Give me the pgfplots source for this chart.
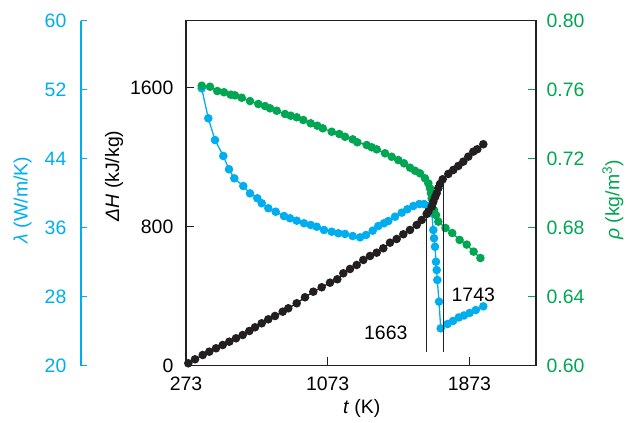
\documentclass[border=0pt]{standalone}
\usepackage{pgfplots}
\pgfplotsset{compat=1.18}
\usepackage{fontspec}
\setmainfont{Liberation Sans}
\definecolor{lblue}{RGB}{0,174,239}
\definecolor{dgreen}{RGB}{0,166,81}
\definecolor{dblack}{RGB}{35,31,32}

\pgfplotstableread{
x y
286 12.7
323.8 35.7
367.3 60.4
404.5 79.4
442.4 99
480.2 118
517.5 137
555.3 156.5
593.1 175.5
630.4 198.5
662.6 219.8
700.4 242.9
737.6 265.9
775.5 284.9
818.9 309.6
850.6 329.2
898 358
944.8 392.5
991.7 424.7
1039.1 450
1086 476.5
1127.2 496.1
1161.1 530.6
1198.9 555.4
1236.7 578.4
1274 607.2
1311.8 630.2
1349.6 649.2
1386.9 674.5
1424.7 706.7
1462.5 728
1499.8 755
1537.6 779.8
1575.5 808.6
1603.7 837.4
1631.9 871.9
1641 885.1
1660.2 913.9
1669.2 942.7
1678.8 968
1688.4 991
1697.4 1019.8
1707 1044.5
1722.3 1071.6
1753.9 1102.1
1782.1 1125.1
1810.4 1148.1
1838.6 1172.9
1866.8 1201.6
1895.1 1230.4
1917.6 1244.2
1951.5 1273
}\enthalpy

\pgfplotstableread{
x y
361.6 52.14
398.9 48.66
436.7 46.14
483.6 44.29
515.8 42.75
545.7 41.70
596.5 40.81
634.3 39.96
675.5 39.39
700.4 38.81
737.6 38.23
779.4 37.83
826.3 37.33
860.2 37.07
898 36.79
939.2 36.49
977 36.29
1010.9 36.09
1052.1 35.71
1095.6 35.51
1132.8 35.33
1170.7 35.25
1214.1 35.01
1255.4 34.86
1289.2 35.13
1327 35.63
1358.7 36.17
1390.8 36.49
1415.1 36.75
1453 37.25
1490.8 37.72
1522.4 38.11
1556.3 38.49
1590.1 38.72
1616.7 38.72
1641 38.49
1660.2 37.68
1669.2 35.71
1673.2 34.75
1678.8 33.77
1684.4 32.03
1688.4 31.07
1691.8 29.91
1701.4 27.40
1711 24.31
1749.4 24.81
1780.4 25.16
1813.2 25.57
1842.5 25.80
1874.1 26.09
1909.1 26.43
1951.5 26.86
}\conductivity

\pgfplotstableread{
x y
361.6 0.7622
408.5 0.7616
449.7 0.7591
487.5 0.7584
525.4 0.7570
549.6 0.7566
587.5 0.7552
634.3 0.7533
681.2 0.7516
719 0.7504
747.2 0.7491
785.1 0.7477
831.9 0.7458
864.1 0.7448
898 0.7439
935.2 0.7423
977 0.7404
1014.3 0.7390
1044.8 0.7375
1095.6 0.7355
1138.5 0.7342
1170.7 0.7326
1214.1 0.7311
1240.1 0.7294
1293.2 0.7278
1321.4 0.7265
1349.6 0.7253
1396.5 0.7230
1434.3 0.7210
1471.6 0.7191
1503.8 0.7172
1537.6 0.7147
1565.9 0.7129
1594.1 0.7114
1622.3 0.7085
1641 0.7056
1650.6 0.7027
1656.2 0.6998
1660.2 0.6969
1665.8 0.6940
1673.2 0.6901
1684.4 0.6872
1697.4 0.6834
1738.1 0.6797
1775.9 0.6768
1817.7 0.6728
1857.8 0.6701
1896.7 0.6660
1935.1 0.6623
}\density

\begin{document}
\fontsize{19.5}{22}\selectfont
\begin{tikzpicture}
\useasboundingbox (0bp,0bp) rectangle (631bp,423bp);
\pgfplotsset{
  every axis/.append style={
    scale only axis, width=350bp, height=345bp,
    xmin=273, xmax=2249,
    tick align=inside,
    major tick length=8bp,
    /pgf/number format/assume math mode=true,
    /pgf/number format/1000 sep={},
    scaled ticks=false,
    tick label style={font=\fontsize{19.5}{22}\selectfont},
  },
}

% lambda data
\begin{axis}[at={(186bp,57.5bp)}, anchor=south west,
  ymin=20, ymax=60, hide x axis, hide y axis]
\addplot[lblue, line width=1.3bp, mark=*, mark size=3.6bp] table {\conductivity};
\end{axis}

% lambda scale, offset to the left
\begin{axis}[at={(81bp,57.5bp)}, anchor=south west, width=1bp,
  xmin=0, xmax=1, ymin=20, ymax=60, hide x axis,
  axis y line*=left,
  y axis line style={lblue, line width=1.2bp},
  ytick={20,28,36,44,52,60},
  major tick length=6bp,
  ytick style={lblue, line width=1bp},
  yticklabel style={text=lblue, xshift=-8bp}]
\addplot[draw=none, forget plot] coordinates {(0,20)};
\end{axis}

% density
\begin{axis}[at={(186bp,57.5bp)}, anchor=south west,
  ymin=0.6, ymax=0.8, hide x axis,
  axis y line*=right,
  y axis line style={dblack, line width=1.2bp},
  ytick={0.6,0.64,0.68,0.72,0.76,0.8},
  ytick style={dgreen, line width=1bp},
  yticklabel style={text=dgreen, xshift=4bp,
    /pgf/number format/.cd, fixed, fixed zerofill, precision=2}]
\addplot[dgreen, line width=1.3bp, mark=*, mark size=3.6bp] table {\density};
\end{axis}

% enthalpy, main frame
\begin{axis}[at={(186bp,57.5bp)}, anchor=south west,
  ymin=0, ymax=1985,
  xtick={273,1073,1873}, ytick={0,800,1600},
  xtick pos=bottom, ytick pos=left,
  axis line style={dblack, line width=1.2bp},
  tick style={dblack, line width=1bp},
  xticklabel style={yshift=-5bp},
  yticklabel style={xshift=-6bp}]
\addplot[dblack, line width=1.3bp, mark=*, mark size=3.6bp] table {\enthalpy};
\addplot[dblack, line width=1bp, no marks] coordinates {(1630,77) (1630,877)};
\addplot[dblack, line width=1bp, no marks] coordinates {(1726,77) (1726,1056)};
\end{axis}

\node at (385.8bp,89.7bp) {1663};
\node at (473.3bp,128bp) {1743};
\node[rotate=90, text=lblue] at (22.5bp,223bp) {\textit{λ} (W/m/K)};
\node[rotate=90] at (114bp,247bp) {\textit{ΔH} (kJ/kg)};
\node[rotate=90, text=dgreen] at (613bp,223bp) {\textit{ρ} (kg/m\textsuperscript{3})};
\node at (361.7bp,15bp) {\textit{t} (K)};
\end{tikzpicture}
\end{document}
